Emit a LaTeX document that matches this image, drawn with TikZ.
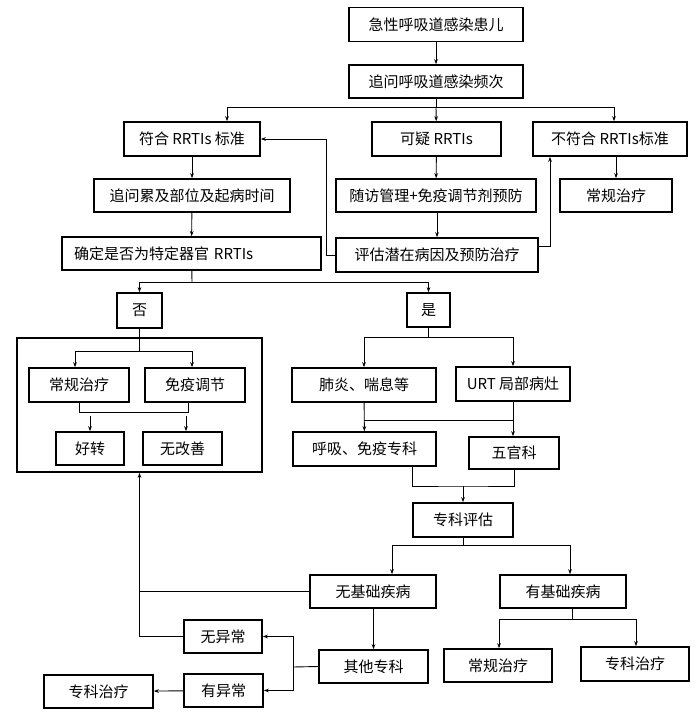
\documentclass[tikz,border=0pt]{standalone}
\usepackage{fontspec}
\setmainfont{Noto Sans CJK SC}
\usetikzlibrary{arrows.meta}

\begin{document}
\begin{tikzpicture}
          [x=1pt, y=-1pt, line width=0.9pt, >={Stealth[length=5pt,width=3.6pt]},
           every node/.style={draw, line width=1.6pt, inner sep=0pt, minimum height=34pt,
                              font=\fontsize{15}{18}\selectfont}]
          \useasboundingbox (0,0) rectangle (694,714);

          % top part
          \node (pt)  [minimum width=174pt] at (436,24.5) {急性呼吸道感染患儿};
          \node (fre) [minimum width=174pt, minimum height=33pt] at (436,81.5) {追问呼吸道感染频次};
          \node (fit) [minimum width=136pt] at (192,139) {符合 RRTIs 标准};
          \node (sus) [minimum width=129pt] at (436.5,139) {可疑 RRTIs};
          \node (non) [minimum width=154pt] at (610,139) {不符合 RRTIs标准};
          \node (ask) [minimum width=196pt, minimum height=33pt] at (192,195.5) {追问累及部位及起病时间};
          \node (fol) [minimum width=200pt, minimum height=33pt] at (436,195.5) {随访管理+免疫调节剂预防};
          \node (cra) [minimum width=112pt, minimum height=33pt] at (616,195.5) {常规治疗};
          \node (org) [minimum width=259pt, minimum height=33pt, text width=235pt, inner xsep=12pt, align=left] at (191.5,253.5) {确定是否为特定器官 RRTIs};
          \node (eva) [minimum width=202pt] at (437,255) {评估潜在病因及预防治疗};

          % no branch
          \node (no)  [minimum width=45pt, minimum height=35pt] at (139.5,310.5) {否};
          \node (grp) [minimum width=245pt, minimum height=134pt] at (139.5,405) {};
          \node (crb) [minimum width=100pt] at (79,385) {常规治疗};
          \node (imm) [minimum width=100pt] at (195,385) {免疫调节};
          \node (bet) [minimum width=68pt, minimum height=33pt] at (90,448.5) {好转};
          \node (unc) [minimum width=79pt, minimum height=33pt] at (182.5,448.5) {无改善};

          % yes branch
          \node (yes) [minimum width=43pt] at (428.5,310) {是};
          \node (pne) [minimum width=144pt] at (364,385) {肺炎、喘息等};
          \node (urt) [minimum width=114pt] at (513,384) {URT 局部病灶};
          \node (res) [minimum width=143pt] at (364.5,449) {呼吸、免疫专科};
          \node (ent) [minimum width=90pt, minimum height=32pt] at (514,453) {五官科};
          \node (spe) [minimum width=100pt] at (463,520) {专科评估};
          \node (nob) [minimum width=126pt, minimum height=33pt] at (373,591.5) {无基础疾病};
          \node (hab) [minimum width=126pt, minimum height=33pt] at (563,591.5) {有基础疾病};
          \node (nor) [minimum width=78pt, minimum height=33pt] at (223,636.5) {无异常};
          \node (oth) [minimum width=109pt, minimum height=33pt] at (373.5,666.5) {其他专科};
          \node (abn) [minimum width=79pt, minimum height=33pt] at (223.5,690.5) {有异常};
          \node (sta) [minimum width=109pt, minimum height=33pt] at (98.5,691.5) {专科治疗};
          \node (crc) [minimum width=108pt, minimum height=33pt] at (498,665.5) {常规治疗};
          \node (stb) [minimum width=108pt] at (635,664) {专科治疗};

          \coordinate (b1) at (436,107);
          \coordinate (b2) at (192,282);
          \coordinate (b3) at (463,486);
          \coordinate (b4) at (463,545);
          \coordinate (b5) at (293,667);
          \coordinate (b6) at (572,619);

          \draw[->] (pt) -- (fre);
          \draw (fre) -- (b1);
          \draw[->] (b1) -| ([xshift=35pt]fit.north);
          \draw[->] (b1) -- (sus);
          \draw[->] (b1) -| ([xshift=4pt]non.north);
          \draw[->] (fit) -- (ask);
          \draw[->] (ask) -- (org);
          \draw[->] (sus) -- (fol);
          \draw[->] (fol.south -| eva.north) -- (eva.north);
          \draw[->] (cra.north |- non.south) -- (cra.north);
          \draw[->] (eva.west) -- ++(-9,0) |- (fit.east);
          \draw[->] ([yshift=9pt]eva.east) -| ([xshift=-60pt]non.south);

          \draw (org) -- (b2);
          \draw[->] (b2) -| (no.north);
          \draw[->] (b2) -| (yes.north);

          \draw (no.south) -- ++(0,23) coordinate (b7);
          \draw[->] (b7) -| ([xshift=-4pt]crb.north);
          \draw[->] (b7) -| ([xshift=-3pt]imm.north);
          \draw (crb.south) -- ++(0,10) -| ([xshift=-7pt]imm.south);
          \draw[->] ([yshift=15pt]bet.north) -- (bet.north);
          \draw[->] ([yshift=15pt,xshift=3.5pt]unc.north) -- ([xshift=3.5pt]unc.north);

          \draw (yes.south) -- ++(0,10) coordinate (b8);
          \draw[->] (b8) -| (pne.north);
          \draw[->] (b8) -| (urt.north);
          \draw[->] (pne) -- (res);
          \draw[->] (urt.south) -- (ent.north -| urt.south);
          \draw ([yshift=-18pt]pne.south) -- ([yshift=-18pt]pne.south -| urt.south);
          \draw ([xshift=47.5pt]res.south) |- (b3) -| (ent.south);
          \draw[->] (b3) -- (spe.north);

          \draw (spe) -- (b4);
          \draw[->] (b4) -| ([xshift=19pt]nob.north);
          \draw[->] (b4) -| ([xshift=7pt]hab.north);
          \draw (nob.west) -- (nob.west -| grp.south);
          \draw[->] (nor.west) -| (grp.south);
          \draw[->] (nob.south -| oth.north) -- (oth.north);
          \draw (oth.west) -- (b5);
          \draw[->] (b5) |- (nor.east);
          \draw[->] (b5) |- (abn.east);
          \draw[->] (abn) -- (sta);

          \draw (hab.south -| b6) -- (b6);
          \draw[->] (b6) -| ([xshift=1pt]crc.north);
          \draw[->] (b6) -| ([xshift=1pt]stb.north);

        \end{tikzpicture}
\end{document}
